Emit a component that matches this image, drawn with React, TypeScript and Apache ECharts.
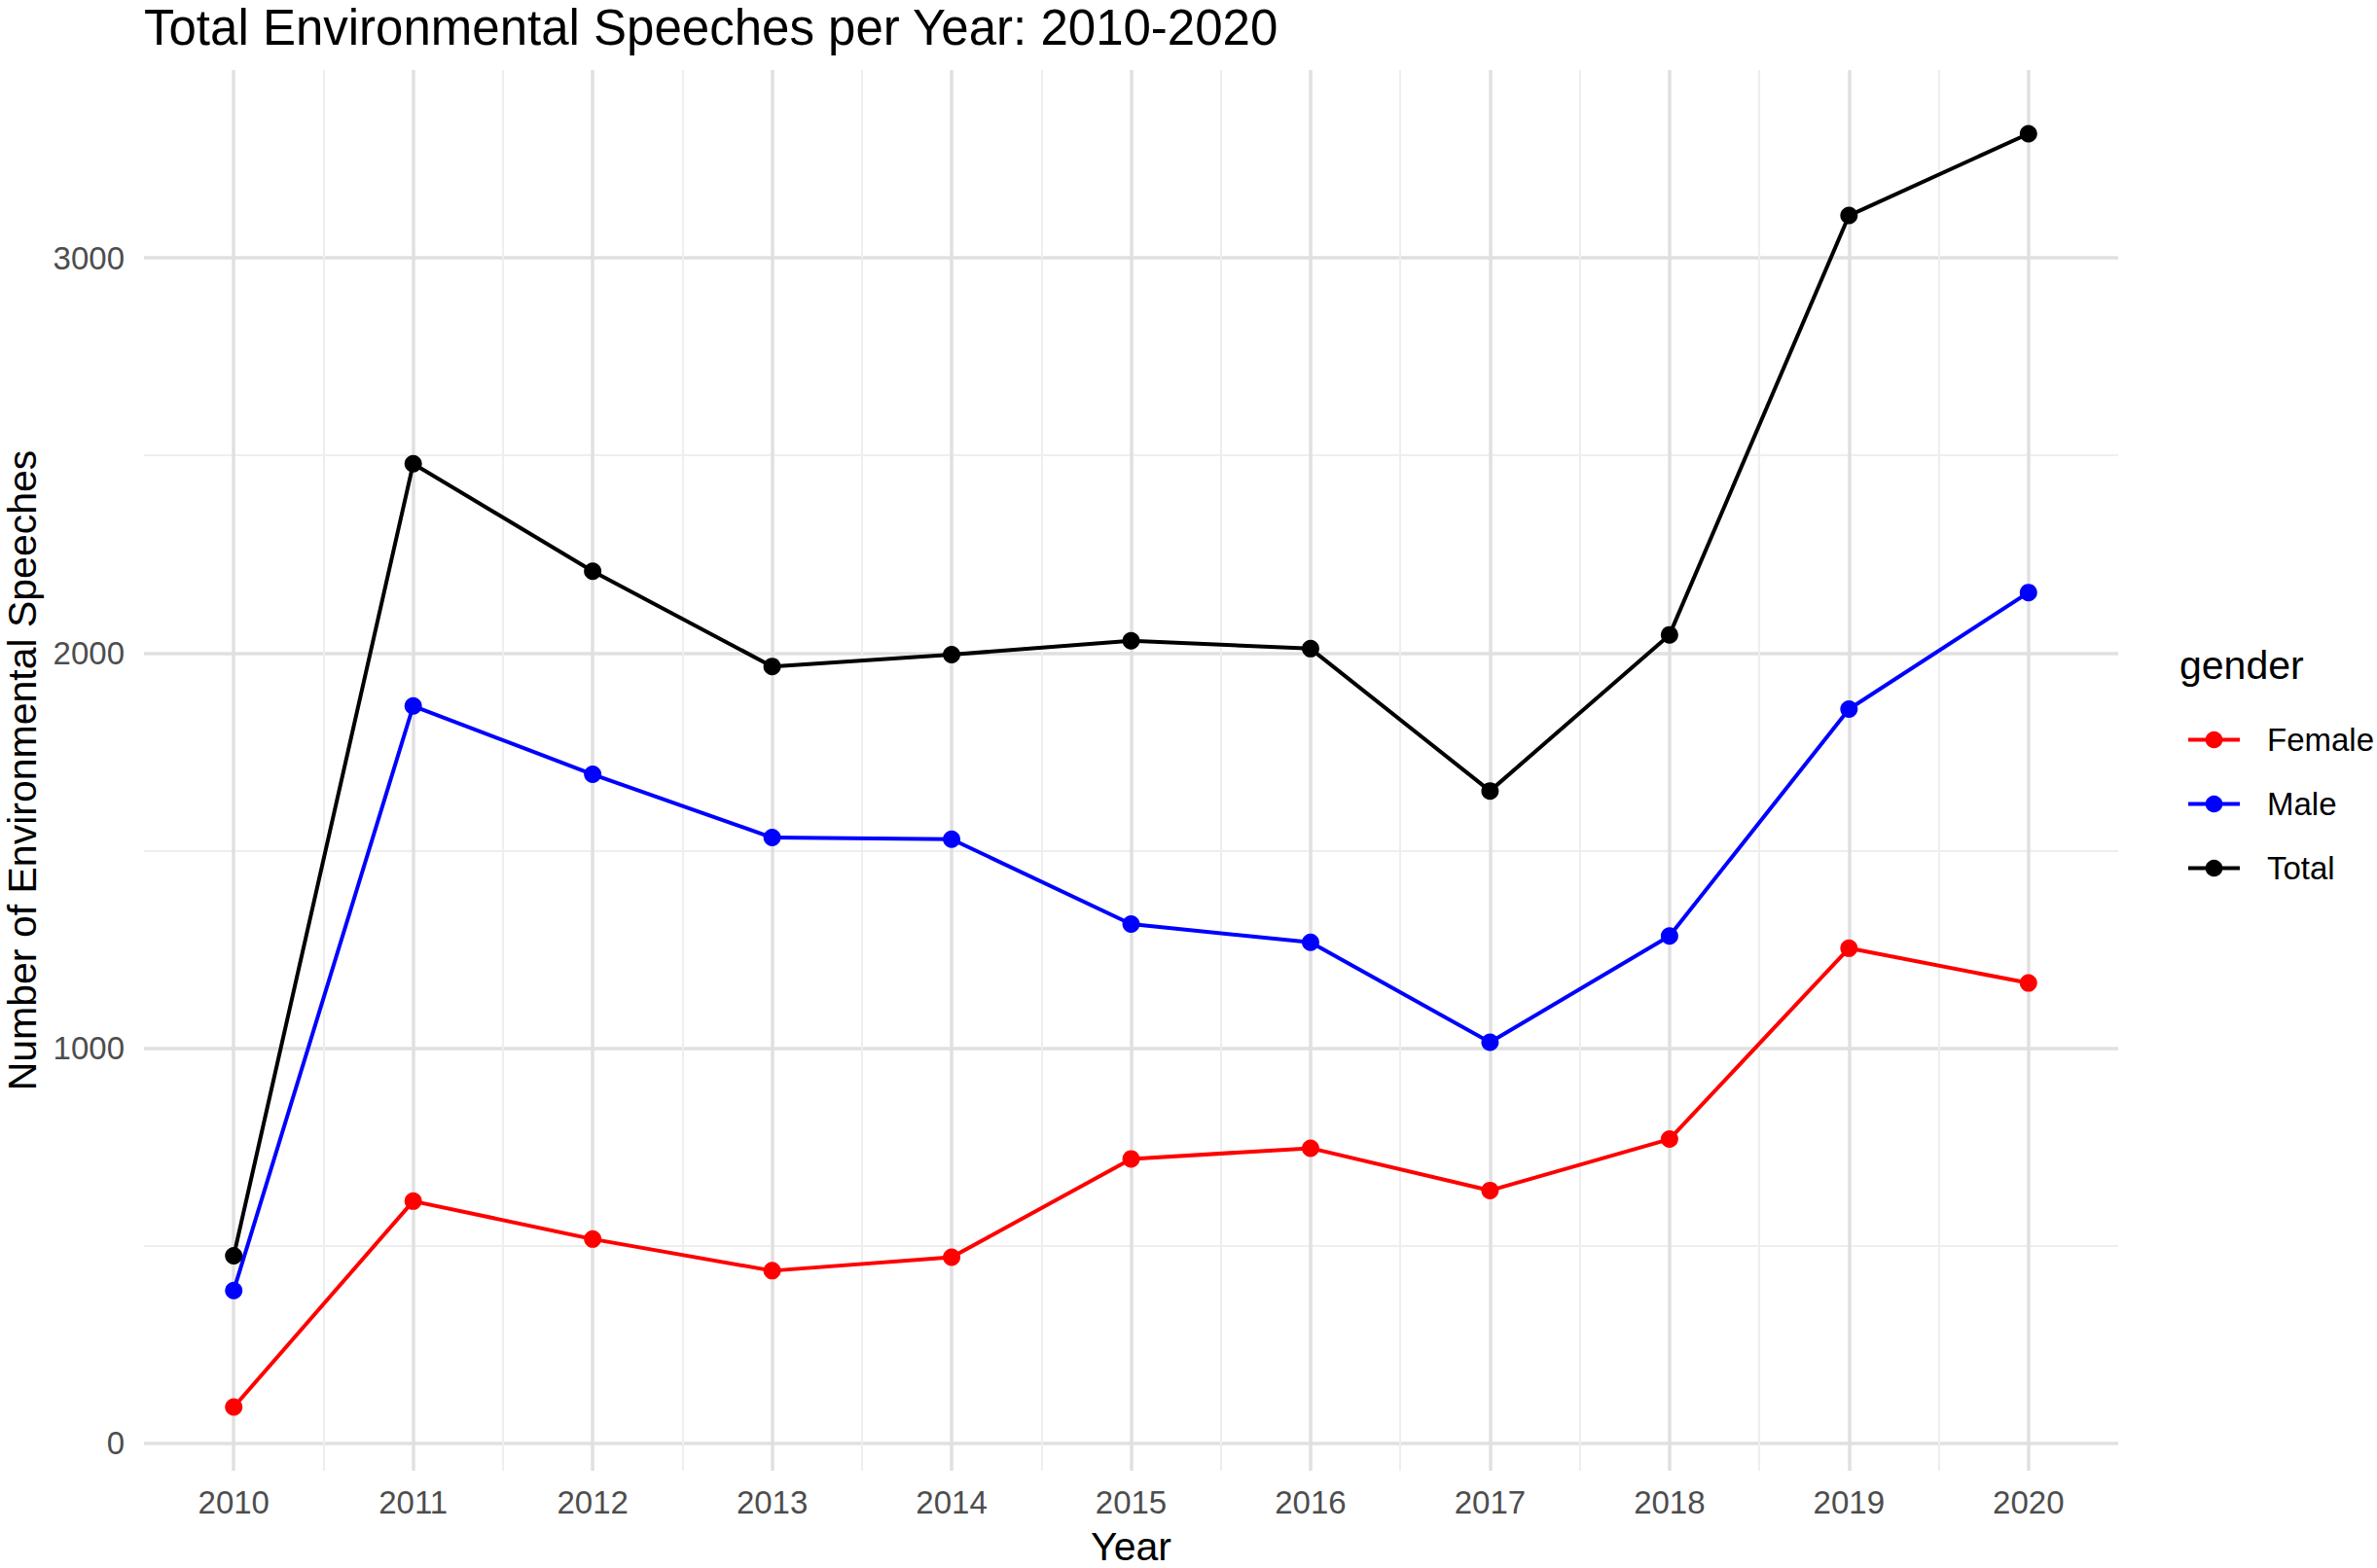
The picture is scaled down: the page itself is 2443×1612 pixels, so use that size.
import React, { useEffect, useRef } from "react";
import * as echarts from "echarts";

const years = [2010, 2011, 2012, 2013, 2014, 2015, 2016, 2017, 2018, 2019, 2020];
const female = [92, 613, 517, 437, 471, 720, 747, 640, 770, 1253, 1165];
const male = [387, 1866, 1693, 1533, 1529, 1314, 1268, 1015, 1284, 1858, 2153];
const total = [475, 2479, 2207, 1966, 1996, 2031, 2011, 1651, 2046, 3107, 3314];

const yTickValues = [0, 1000, 2000, 3000];
const yMinorValues = [500, 1500, 2500];
const xMinorValues = [2010.5, 2011.5, 2012.5, 2013.5, 2014.5, 2015.5, 2016.5, 2017.5, 2018.5, 2019.5];

const seriesNames = ["Female", "Male", "Total"];
const seriesColors = ["#FF0000", "#0000FF", "#000000"];

const FONT = "'Liberation Sans', Arial, Helvetica, sans-serif";

export default function App() {
  const ref = useRef<HTMLDivElement>(null);

  useEffect(() => {
    if (!ref.current) return;
    const chart = echarts.init(ref.current, null, { renderer: "svg" });

    const all = [...female, ...male, ...total];
    const dMin = Math.min(...all);
    const dMax = Math.max(...all);
    const yPad = (dMax - dMin) * 0.05;
    const yMin = dMin - yPad;
    const yMax = dMax + yPad;
    const xPad = (years[years.length - 1] - years[0]) * 0.05;
    const xMin = years[0] - xPad;
    const xMax = years[years.length - 1] + xPad;

    const values = [female, male, total];

    const majorLine = { show: true, lineStyle: { color: "#E0E0E0", width: 3.5 } };
    const minorLine = { show: true, lineStyle: { color: "#EEEEEE", width: 2 } };

    chart.setOption({
      animation: false,
      backgroundColor: "#FFFFFF",
      title: {
        text: "Total Environmental Speeches per Year: 2010-2020",
        left: 148,
        top: 3,
        padding: 0,
        textStyle: { fontFamily: FONT, fontSize: 51, fontWeight: "normal", color: "#000000" },
      },
      grid: {
        left: 148,
        right: 266,
        top: 72,
        bottom: 100,
        containLabel: false,
        outerBoundsMode: "none",
      },
      legend: {
        orient: "vertical",
        left: 2247,
        top: 744,
        padding: 0,
        itemWidth: 53,
        itemHeight: 22,
        itemGap: 33,
        data: seriesNames,
        lineStyle: { width: 4 },
        textStyle: { fontFamily: FONT, fontSize: 33, color: "#000000", padding: [0, 0, 0, 23] },
      },
      graphic: [
        {
          type: "text",
          x: 2240,
          y: 684,
          style: {
            text: "gender",
            fontFamily: FONT,
            fontSize: 41,
            fill: "#000000",
            verticalAlign: "middle",
            align: "left",
          },
        },
      ],
      xAxis: [
        {
          type: "value",
          min: xMin,
          max: xMax,
          name: "Year",
          nameLocation: "middle",
          nameGap: 57,
          nameTextStyle: { fontFamily: FONT, fontSize: 41, color: "#000000" },
          axisLine: { show: false },
          axisTick: { show: false, customValues: years },
          axisLabel: {
            customValues: years,
            margin: 16,
            fontFamily: FONT,
            fontSize: 33,
            color: "#4D4D4D",
            formatter: (v: number) => String(v),
          },
          splitLine: majorLine,
        },
        {
          type: "value",
          min: xMin,
          max: xMax,
          position: "top",
          axisLine: { show: false },
          axisTick: { show: false, customValues: xMinorValues },
          axisLabel: { show: false, customValues: xMinorValues },
          splitLine: minorLine,
        },
      ],
      yAxis: [
        {
          type: "value",
          min: yMin,
          max: yMax,
          name: "Number of Environmental Speeches",
          nameLocation: "middle",
          nameGap: 100,
          nameTextStyle: { fontFamily: FONT, fontSize: 41, color: "#000000" },
          axisLine: { show: false },
          axisTick: { show: false, customValues: yTickValues },
          axisLabel: {
            customValues: yTickValues,
            margin: 20,
            fontFamily: FONT,
            fontSize: 33,
            color: "#4D4D4D",
            formatter: (v: number) => String(v),
          },
          splitLine: majorLine,
        },
        {
          type: "value",
          min: yMin,
          max: yMax,
          position: "right",
          axisLine: { show: false },
          axisTick: { show: false, customValues: yMinorValues },
          axisLabel: { show: false, customValues: yMinorValues },
          splitLine: minorLine,
        },
      ],
      series: seriesNames.map((name, si) => ({
        name,
        type: "line",
        xAxisIndex: 0,
        yAxisIndex: 0,
        data: years.map((y, i) => [y, values[si][i]]),
        symbol: "circle",
        symbolSize: 18,
        showSymbol: true,
        lineStyle: { color: seriesColors[si], width: 4 },
        itemStyle: { color: seriesColors[si] },
        emphasis: { disabled: true },
      })),
    });

    return () => {
      chart.dispose();
    };
  }, []);

  return (
    <div
      ref={ref}
      style={{ position: "fixed", left: 0, top: 0, width: 2443, height: 1612, background: "#FFFFFF" }}
    />
  );
}
